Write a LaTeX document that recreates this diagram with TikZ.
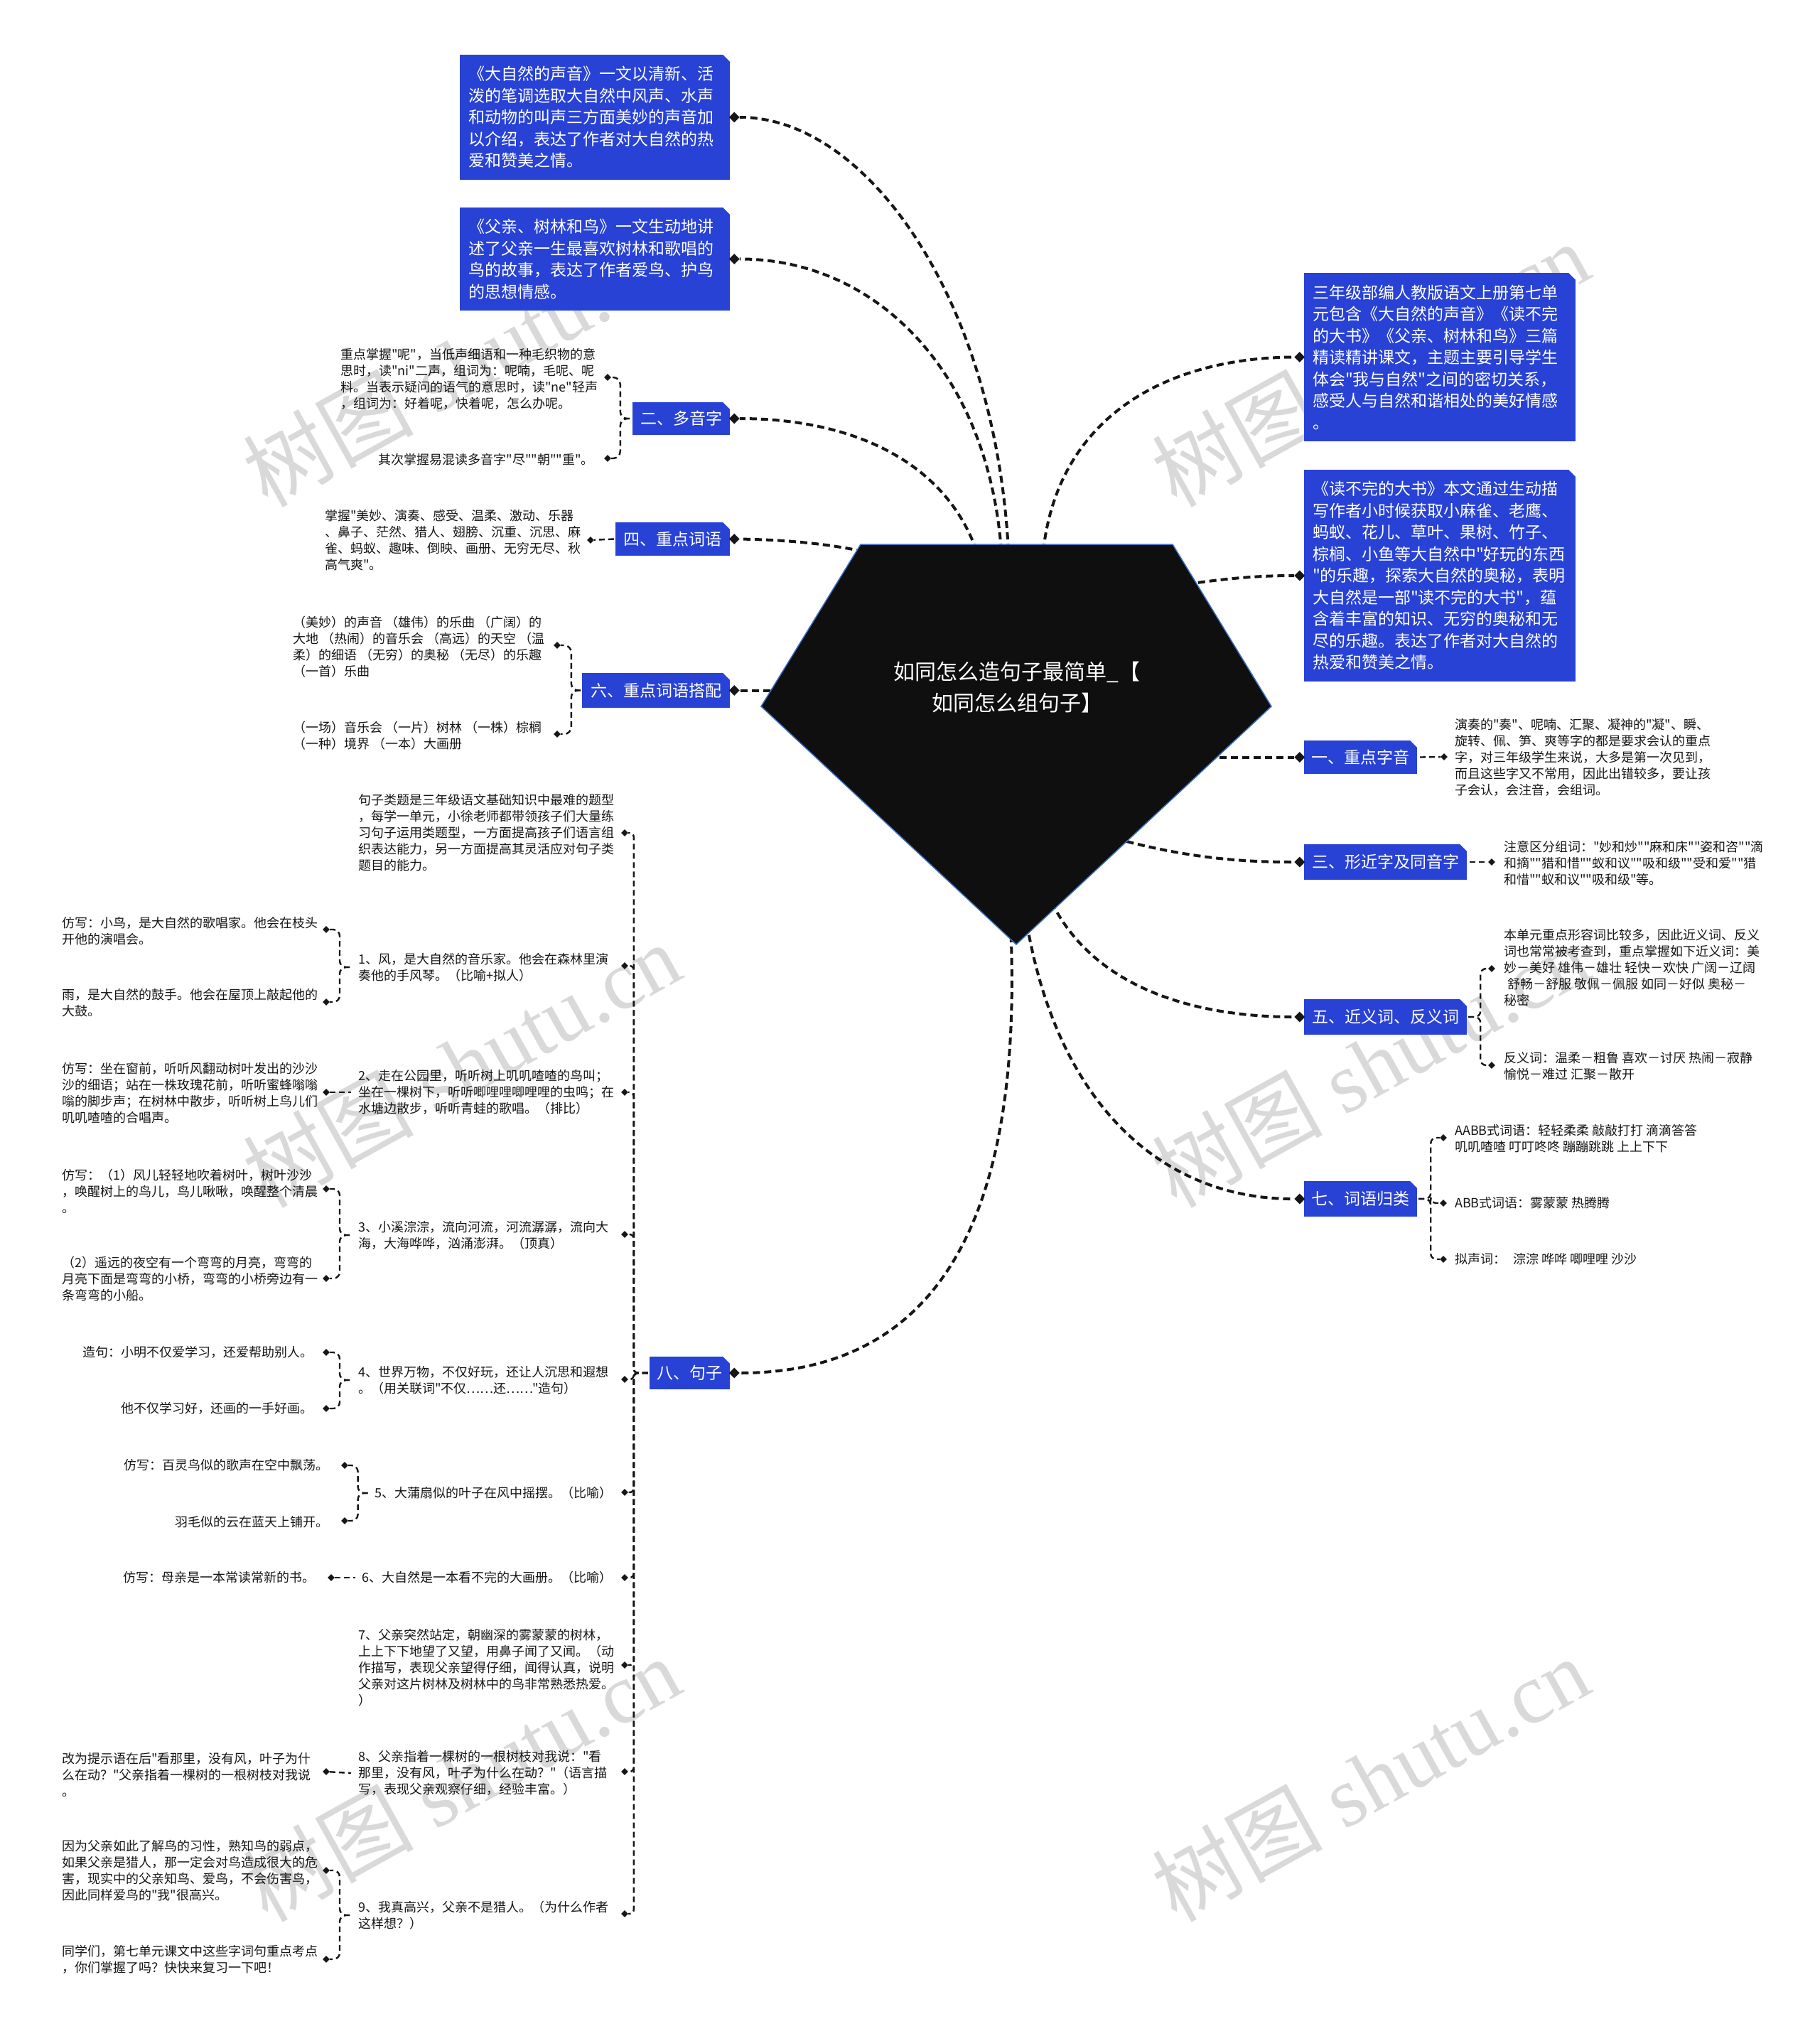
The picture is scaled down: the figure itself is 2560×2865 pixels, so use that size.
\documentclass[tikz,border=0pt]{standalone}
\usepackage{fontspec}
\setmainfont{Noto Sans CJK SC}
\newfontfamily\cjkfont{Noto Sans CJK SC}
\newfontfamily\wmlatin{Liberation Serif}
\usetikzlibrary{shapes.geometric}
\definecolor{boxblue}{RGB}{40,66,214}
\definecolor{ink}{RGB}{22,22,22}
\definecolor{pentfill}{RGB}{15,15,16}
\definecolor{pentedge}{RGB}{60,110,200}
\pgfdeclarelayer{background}
\pgfsetlayers{background,main}
\tikzset{
  bbox/.style={rectangle, fill=boxblue, inner sep=0pt, text=white, font=\cjkfont\fontsize{23}{30.5}\selectfont},
  btxt/.style={bbox, align=left},
  blbl/.style={bbox, align=center},
  txt/.style={inner sep=0pt, text=ink, font=\cjkfont\fontsize{18}{23}\selectfont, align=left},
  bigdia/.style={diamond, fill=ink, inner sep=0pt, minimum width=15pt, minimum height=15pt},
  smalldia/.style={diamond, fill=ink, inner sep=0pt, minimum width=10pt, minimum height=10pt},
  mainconn/.style={draw=ink, line width=4pt, dash pattern=on 10pt off 6pt},
  subconn/.style={draw=ink, line width=2.4pt, dash pattern=on 8pt off 5pt},
  wm/.style={text=black!15, font=\cjkfont\fontsize{120}{120}\selectfont, inner sep=0pt, rotate=29},
}
\newcommand\cutcorner[1]{\fill[white] (#1.north east) -- ++(-10,0) -- ++(10,10) -- cycle;}
\begin{document}
\begin{tikzpicture}[x=1pt,y=-1pt]
\useasboundingbox (0,0) rectangle (2560,2865);

% ---------- main boxes ----------
\node[btxt, minimum width=380pt, minimum height=176pt, text width=356pt] (B1) at (837,165) {《大自然的声音》一文以清新、活\\泼的笔调选取大自然中风声、水声\\和动物的叫声三方面美妙的声音加\\以介绍，表达了作者对大自然的热\\爱和赞美之情。};
\node[btxt, minimum width=380pt, minimum height=145pt, text width=356pt] (B2) at (837,364.5) {《父亲、树林和鸟》一文生动地讲\\述了父亲一生最喜欢树林和歌唱的\\鸟的故事，表达了作者爱鸟、护鸟\\的思想情感。};
\node[blbl, minimum width=137pt, minimum height=46pt] (L2) at (958.5,589) {二、多音字};
\node[blbl, minimum width=161pt, minimum height=47pt] (L4) at (946.5,758.5) {四、重点词语};
\node[blbl, minimum width=208pt, minimum height=49pt] (L6) at (923,971.5) {六、重点词语搭配};
\node[blbl, minimum width=113pt, minimum height=46pt] (L8) at (970.5,1932) {八、句子};
\node[btxt, minimum width=382pt, minimum height=237pt, text width=358pt] (R1) at (2026,502.5) {三年级部编人教版语文上册第七单\\元包含《大自然的声音》《读不完\\的大书》《父亲、树林和鸟》三篇\\精读精讲课文，主题主要引导学生\\体会"我与自然"之间的密切关系，\\感受人与自然和谐相处的美好情感\\。};
\node[btxt, minimum width=382pt, minimum height=298pt, text width=358pt] (R2) at (2026,810) {《读不完的大书》本文通过生动描\\写作者小时候获取小麻雀、老鹰、\\蚂蚁、花儿、草叶、果树、竹子、\\棕榈、小鱼等大自然中"好玩的东西\\"的乐趣，探索大自然的奥秘，表明\\大自然是一部"读不完的大书"，蕴\\含着丰富的知识、无穷的奥秘和无\\尽的乐趣。表达了作者对大自然的\\热爱和赞美之情。};
\node[blbl, minimum width=159pt, minimum height=47pt] (Ra) at (1914.5,1065.5) {一、重点字音};
\node[blbl, minimum width=229pt, minimum height=50pt] (Rc) at (1949.5,1213) {三、形近字及同音字};
\node[blbl, minimum width=229pt, minimum height=50pt] (Re) at (1949.5,1431) {五、近义词、反义词};
\node[blbl, minimum width=159pt, minimum height=50pt] (Rg) at (1914.5,1687) {七、词语归类};
\foreach \b in {B1,B2,L2,L4,L6,L8,R1,R2,Ra,Rc,Re,Rg} {\cutcorner{\b}}

% ---------- main diamonds ----------
\foreach \b in {B1,B2,L2,L4,L6,L8} {\node[bigdia] (d\b) at ([xshift=6pt]\b.east) {};}
\foreach \b in {R1,R2,Ra,Rc,Re,Rg} {\node[bigdia] (d\b) at ([xshift=-6pt]\b.west) {};}

% ---------- title ----------
\node[text=white, font=\cjkfont\fontsize{30}{44}\selectfont, align=center, inner sep=0pt] (ttl) at (1431,967) {如同怎么造句子最简单\_【\\如同怎么组句子】};

% attachment points on the centre shape
\coordinate (pB1) at (1419,775);
\coordinate (pB2) at (1409,775);
\coordinate (pL2) at (1374,775);
\coordinate (pL4) at (1215,776);
\coordinate (pL6) at (1100,971.5);
\coordinate (pL8) at (1422,1300);
\coordinate (pR1) at (1468,775);
\coordinate (pR2) at (1670,822);
\coordinate (pRa) at (1700,1065.5);
\coordinate (pRc) at (1570,1180);
\coordinate (pRe) at (1480,1270);
\coordinate (pRg) at (1445,1300);

% ---------- 二、多音字 ----------
\node[txt, anchor=west] (t2a) at (479,533.5) {重点掌握"呢"，当低声细语和一种毛织物的意\\思时，读"ni"二声，组词为：呢喃，毛呢、呢\\料。当表示疑问的语气的意思时，读"ne"轻声\\，组词为：好着呢，快着呢，怎么办呢。};
\node[txt, anchor=east] (t2b) at (836,647) {其次掌握易混读多音字"尽""朝""重"。};
\node[smalldia] (d2a) at (855,531) {};
\node[smalldia] (d2b) at (855,645) {};

% ---------- 四、重点词语 ----------
\node[txt, anchor=west] (t4) at (457,760) {掌握"美妙、演奏、感受、温柔、激动、乐器\\、鼻子、茫然、猎人、翅膀、沉重、沉思、麻\\雀、蚂蚁、趣味、倒映、画册、无穷无尽、秋\\高气爽"。};
\node[smalldia] (d4) at (831,760) {};

% ---------- 六、重点词语搭配 ----------
\node[txt, anchor=west] (t6a) at (412,910) {（美妙）的声音 （雄伟）的乐曲 （广阔）的\\大地 （热闹）的音乐会 （高远）的天空 （温\\柔）的细语 （无穷）的奥秘 （无尽）的乐趣\\（一首）乐曲};
\node[txt, anchor=west] (t6b) at (412,1035) {（一场）音乐会 （一片）树林 （一株）棕榈\\（一种）境界 （一本）大画册};
\node[smalldia] (d6a) at (784,908) {};
\node[smalldia] (d6b) at (784,1033) {};

% ---------- 八、句子 ----------
\node[txt, anchor=west] (c0) at (504,1172) {句子类题是三年级语文基础知识中最难的题型\\，每学一单元，小徐老师都带领孩子们大量练\\习句子运用类题型，一方面提高孩子们语言组\\织表达能力，另一方面提高其灵活应对句子类\\题目的能力。};
\node[txt, anchor=west] (c1) at (504,1361) {1、风，是大自然的音乐家。他会在森林里演\\奏他的手风琴。（比喻+拟人）};
\node[txt, anchor=west] (c2) at (504,1537) {2、走在公园里，听听树上叽叽喳喳的鸟叫；\\坐在一棵树下，听听唧哩哩唧哩哩的虫鸣；在\\水塘边散步，听听青蛙的歌唱。（排比）};
\node[txt, anchor=west] (c3) at (504,1738) {3、小溪淙淙，流向河流，河流潺潺，流向大\\海，大海哗哗，汹涌澎湃。（顶真）};
\node[txt, anchor=west] (c4) at (504,1942) {4、世界万物，不仅好玩，还让人沉思和遐想\\。（用关联词"不仅……还……"造句）};
\node[txt, anchor=east] (c5) at (862,2101) {5、大蒲扇似的叶子在风中摇摆。（比喻）};
\node[txt, anchor=east] (c6) at (862,2220) {6、大自然是一本看不完的大画册。（比喻）};
\node[txt, anchor=west] (c7) at (504,2347) {7、父亲突然站定，朝幽深的雾蒙蒙的树林，\\上上下下地望了又望，用鼻子闻了又闻。（动\\作描写，表现父亲望得仔细，闻得认真，说明\\父亲对这片树林及树林中的鸟非常熟悉热爱。\\）};
\node[txt, anchor=west] (c8) at (504,2495) {8、父亲指着一棵树的一根树枝对我说："看\\那里，没有风，叶子为什么在动？"（语言描\\写，表现父亲观察仔细，经验丰富。）};
\node[txt, anchor=west] (c9) at (504,2695) {9、我真高兴，父亲不是猎人。（为什么作者\\这样想？）};
\foreach \n/\y in {0/1172,1/1359,2/1537,3/1737,4/1941,5/2100,6/2220,7/2343,8/2493,9/2693}
  {\node[smalldia] (s\n) at (879,\y) {};}

\node[txt, anchor=west] (k1a) at (87,1310) {仿写：小鸟，是大自然的歌唱家。他会在枝头\\开他的演唱会。};
\node[txt, anchor=west] (k1b) at (87,1411) {雨，是大自然的鼓手。他会在屋顶上敲起他的\\大鼓。};
\node[txt, anchor=west] (k2) at (87,1538) {仿写：坐在窗前，听听风翻动树叶发出的沙沙\\沙的细语；站在一株玫瑰花前，听听蜜蜂嗡嗡\\嗡的脚步声；在树林中散步，听听树上鸟儿们\\叽叽喳喳的合唱声。};
\node[txt, anchor=west] (k3a) at (87,1676) {仿写：（1）风儿轻轻地吹着树叶，树叶沙沙\\，唤醒树上的鸟儿，鸟儿啾啾，唤醒整个清晨\\。};
\node[txt, anchor=west] (k3b) at (87,1800) {（2）遥远的夜空有一个弯弯的月亮，弯弯的\\月亮下面是弯弯的小桥，弯弯的小桥旁边有一\\条弯弯的小船。};
\node[txt, anchor=east] (k4a) at (441,1903) {造句：小明不仅爱学习，还爱帮助别人。};
\node[txt, anchor=east] (k4b) at (441,1982) {他不仅学习好，还画的一手好画。};
\node[txt, anchor=east] (k5a) at (463,2062) {仿写：百灵鸟似的歌声在空中飘荡。};
\node[txt, anchor=east] (k5b) at (463,2142) {羽毛似的云在蓝天上铺开。};
\node[txt, anchor=east] (k6) at (444,2220) {仿写：母亲是一本常读常新的书。};
\node[txt, anchor=west] (k8) at (87,2497) {改为提示语在后"看那里，没有风，叶子为什\\么在动？"父亲指着一棵树的一根树枝对我说\\。};
\node[txt, anchor=west] (k9a) at (87,2632) {因为父亲如此了解鸟的习性，熟知鸟的弱点，\\如果父亲是猎人，那一定会对鸟造成很大的危\\害，现实中的父亲知鸟、爱鸟，不会伤害鸟，\\因此同样爱鸟的"我"很高兴。};
\node[txt, anchor=west] (k9b) at (87,2757) {同学们，第七单元课文中这些字词句重点考点\\，你们掌握了吗？快快来复习一下吧！};
\node[smalldia] (q1a) at (459,1308) {};
\node[smalldia] (q1b) at (459,1410) {};
\node[smalldia] (q2) at (459,1537) {};
\node[smalldia] (q3a) at (459,1673) {};
\node[smalldia] (q3b) at (459,1799) {};
\node[smalldia] (q4a) at (459,1903) {};
\node[smalldia] (q4b) at (459,1982) {};
\node[smalldia] (q5a) at (485,2062) {};
\node[smalldia] (q5b) at (485,2140) {};
\node[smalldia] (q6) at (466,2220) {};
\node[smalldia] (q8) at (459,2493) {};
\node[smalldia] (q9a) at (459,2632) {};
\node[smalldia] (q9b) at (459,2757) {};

% ---------- right side children ----------
\node[txt, anchor=west] (ta) at (2047,1066) {演奏的"奏"、呢喃、汇聚、凝神的"凝"、瞬、\\旋转、佩、笋、爽等字的都是要求会认的重点\\字，对三年级学生来说，大多是第一次见到，\\而且这些字又不常用，因此出错较多，要让孩\\子会认，会注音，会组词。};
\node[smalldia] (ra) at (2032,1065) {};
\node[txt, anchor=west] (tc) at (2116,1215) {注意区分组词："妙和炒""麻和床""姿和咨""滴\\和摘""猎和惜""蚁和议""吸和级""受和爱""猎\\和惜""蚁和议""吸和级"等。};
\node[smalldia] (rc) at (2099,1213) {};
\node[txt, anchor=west] (te1) at (2116,1362) {本单元重点形容词比较多，因此近义词、反义\\词也常常被考查到，重点掌握如下近义词：美\\妙－美好 雄伟－雄壮 轻快－欢快 广阔－辽阔\\\hspace*{5pt}舒畅－舒服 敬佩－佩服 如同－好似 奥秘－\\秘密};
\node[txt, anchor=west] (te2) at (2116,1500) {反义词：温柔－粗鲁 喜欢－讨厌 热闹－寂静\\愉悦－难过 汇聚－散开};
\node[smalldia] (re1) at (2099,1363) {};
\node[smalldia] (re2) at (2099,1499) {};
\node[txt, anchor=west] (tg1) at (2047,1602) {AABB式词语：轻轻柔柔 敲敲打打 滴滴答答\\叽叽喳喳 叮叮咚咚 蹦蹦跳跳 上上下下};
\node[txt, anchor=west] (tg2) at (2047,1693) {ABB式词语：雾蒙蒙 热腾腾};
\node[txt, anchor=west] (tg3) at (2047,1772) {拟声词：\hspace{10pt}淙淙 哗哗 唧哩哩 沙沙};
\node[smalldia] (rg1) at (2031,1601) {};
\node[smalldia] (rg2) at (2031,1693) {};
\node[smalldia] (rg3) at (2031,1772) {};

% ---------- background: watermark, connectors, centre shape ----------
\begin{pgfonlayer}{background}
\fill[white] (0,0) rectangle (2560,2865);
\node[wm] (wm1) at (649,512) {树图\hspace{0.25em}{\wmlatin shutu.cn}};
\node[wm] (wm2) at (1928,512) {树图\hspace{0.25em}{\wmlatin shutu.cn}};
\node[wm] (wm3) at (649,1498) {树图\hspace{0.25em}{\wmlatin shutu.cn}};
\node[wm] (wm4) at (1928,1498) {树图\hspace{0.25em}{\wmlatin shutu.cn}};
\node[wm] (wm5) at (649,2503) {树图\hspace{0.25em}{\wmlatin shutu.cn}};
\node[wm] (wm6) at (1928,2503) {树图\hspace{0.25em}{\wmlatin shutu.cn}};

\draw[mainconn] (pB1) .. controls (1400,420) and (1220,165) .. (dB1);
\draw[mainconn] (pB2) .. controls (1390,520) and (1230,364) .. (dB2);
\draw[mainconn] (pL2) .. controls (1330,650) and (1200,589) .. (dL2);
\draw[mainconn] (pL4) .. controls (1150,762) and (1080,759) .. (dL4);
\draw[mainconn] (pL6) -- (dL6);
\draw[mainconn] (pL8) .. controls (1440,1700) and (1330,1932) .. (dL8);
\draw[mainconn] (pR1) .. controls (1490,580) and (1650,503) .. (dR1);
\draw[mainconn] (pR2) .. controls (1740,812) and (1780,810) .. (dR2);
\draw[mainconn] (pRa) -- (dRa);
\draw[mainconn] (pRc) .. controls (1680,1210) and (1760,1213) .. (dRc);
\draw[mainconn] (pRe) .. controls (1540,1390) and (1680,1431) .. (dRe);
\draw[mainconn] (pRg) .. controls (1490,1560) and (1640,1688) .. (dRg);

% sub connectors
\draw[subconn, rounded corners=10pt] ([xshift=-4pt]L2.west) -- ++(-13,0) |- (d2a);
\draw[subconn, rounded corners=10pt] ([xshift=-4pt]L2.west) -- ++(-13,0) |- (d2b);
\draw[subconn] ([xshift=-2pt]L4.west) -- (d4);
\draw[subconn, rounded corners=10pt] ([xshift=-2pt]L6.west) -- ++(-13,0) |- (d6a);
\draw[subconn, rounded corners=10pt] ([xshift=-2pt]L6.west) -- ++(-13,0) |- (d6b);
\foreach \n in {0,...,9} {\draw[subconn, rounded corners=6pt] ([xshift=-2pt]L8.west) -- ++(-20,0) |- (s\n);}
\foreach \c/\a/\b in {c1/q1a/q1b, c3/q3a/q3b, c4/q4a/q4b, c9/q9a/q9b} {
  \draw[subconn, rounded corners=9pt] ([xshift=-12pt]\c.west) -- ++(-14,0) |- (\a);
  \draw[subconn, rounded corners=9pt] ([xshift=-12pt]\c.west) -- ++(-14,0) |- (\b);
}
\draw[subconn, rounded corners=9pt] ([xshift=-10pt]c5.west) -- ++(-14,0) |- (q5a);
\draw[subconn, rounded corners=9pt] ([xshift=-10pt]c5.west) -- ++(-14,0) |- (q5b);
\draw[subconn] (q2) -- ([xshift=-10pt]c2.west);
\draw[subconn] (q6) -- ([xshift=-10pt]c6.west);
\draw[subconn] (q8) -- ([xshift=-10pt]c8.west);

\draw[subconn] ([xshift=4pt]Ra.east) -- (ra);
\draw[subconn] ([xshift=4pt]Rc.east) -- (rc);
\draw[subconn, rounded corners=8pt] ([xshift=2pt]Re.east) -- ++(17,0) |- (re1);
\draw[subconn, rounded corners=8pt] ([xshift=2pt]Re.east) -- ++(17,0) |- (re2);
\foreach \d in {rg1,rg2,rg3} {\draw[subconn, rounded corners=8pt] ([xshift=2pt]Rg.east) -- ++(17,0) |- (\d);}

% centre shape
\filldraw[fill=pentfill, draw=pentedge, line width=1.5pt] (1211,766) -- (1650,766) -- (1789,994) -- (1430,1329) -- (1071,994) -- cycle;
\end{pgfonlayer}
\end{tikzpicture}
\end{document}
